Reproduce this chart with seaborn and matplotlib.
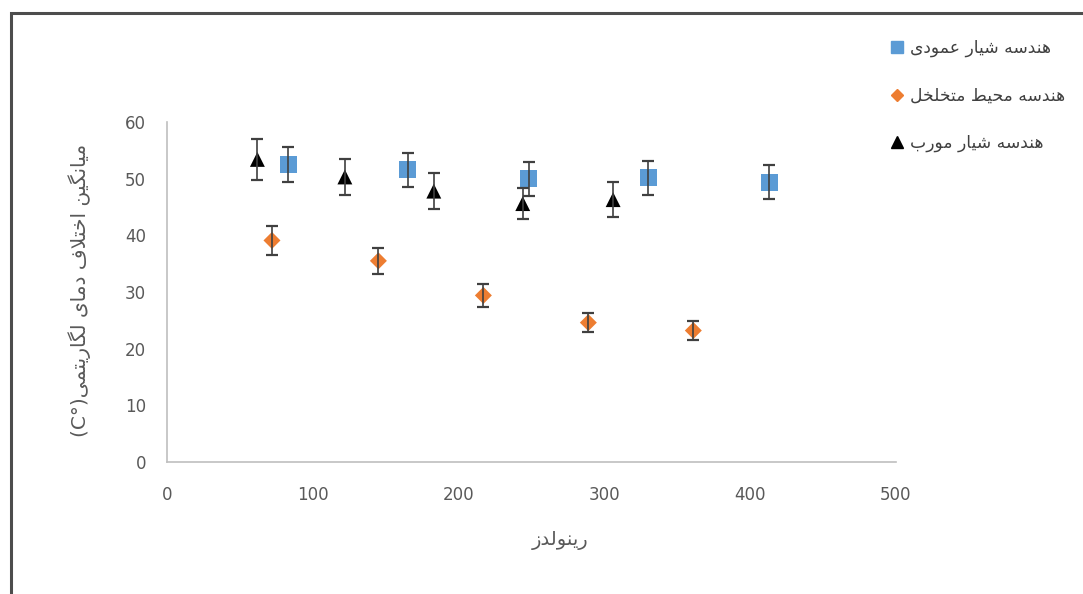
import matplotlib
matplotlib.use("Agg")
import matplotlib.pyplot as plt
from matplotlib.lines import Line2D
from matplotlib.patches import Rectangle
import seaborn as sns
import pandas as pd

# ---- data -------------------------------------------------------------
re_vertical = [83, 165, 248, 330, 413]
dt_vertical = [52.5, 51.6, 50.0, 50.2, 49.4]
err_vertical = [3.1, 3.0, 3.0, 3.0, 3.0]

re_porous = [72, 145, 217, 289, 361]
dt_porous = [39.1, 35.5, 29.4, 24.6, 23.2]
err_porous = [2.6, 2.3, 2.0, 1.7, 1.7]

re_oblique = [62, 122, 183, 244, 306]
dt_oblique = [53.4, 50.3, 47.8, 45.6, 46.3]
err_oblique = [3.6, 3.2, 3.2, 2.7, 3.1]

series_names = ["هندسه شیار عمودی", "هندسه محیط متخلخل", "هندسه شیار مورب"]
x_label = "رینولدز"
y_label = "میانگین اختلاف دمای لگاریتمی"
y_unit = "(C°)"
x_ticks = [0, 100, 200, 300, 400, 500]
y_ticks = [0, 10, 20, 30, 40, 50, 60]

# ---- minimal Arabic-script shaping (contextual forms + RTL order) -----
_FORMS = {
    "\u0627": ("\uFE8D", "\uFE8E", None, None),
    "\u0628": ("\uFE8F", "\uFE90", "\uFE91", "\uFE92"),
    "\u062A": ("\uFE95", "\uFE96", "\uFE97", "\uFE98"),
    "\u062D": ("\uFEA1", "\uFEA2", "\uFEA3", "\uFEA4"),
    "\u062E": ("\uFEA5", "\uFEA6", "\uFEA7", "\uFEA8"),
    "\u062F": ("\uFEA9", "\uFEAA", None, None),
    "\u0631": ("\uFEAD", "\uFEAE", None, None),
    "\u0632": ("\uFEAF", "\uFEB0", None, None),
    "\u0633": ("\uFEB1", "\uFEB2", "\uFEB3", "\uFEB4"),
    "\u0634": ("\uFEB5", "\uFEB6", "\uFEB7", "\uFEB8"),
    "\u0637": ("\uFEC1", "\uFEC2", "\uFEC3", "\uFEC4"),
    "\u0639": ("\uFEC9", "\uFECA", "\uFECB", "\uFECC"),
    "\u0641": ("\uFED1", "\uFED2", "\uFED3", "\uFED4"),
    "\u0644": ("\uFEDD", "\uFEDE", "\uFEDF", "\uFEE0"),
    "\u0645": ("\uFEE1", "\uFEE2", "\uFEE3", "\uFEE4"),
    "\u0646": ("\uFEE5", "\uFEE6", "\uFEE7", "\uFEE8"),
    "\u0647": ("\uFEE9", "\uFEEA", "\uFEEB", "\uFEEC"),
    "\u0648": ("\uFEED", "\uFEEE", None, None),
    "\u06CC": ("\uFBFC", "\uFBFD", "\uFBFE", "\uFBFF"),
    "\u06AF": ("\uFB92", "\uFB93", "\uFB94", "\uFB95"),
    "LA": ("\uFEFB", "\uFEFC", None, None),
}


def shape(text):
    units, i = [], 0
    while i < len(text):
        if text[i] == "\u0644" and i + 1 < len(text) and text[i + 1] == "\u0627":
            units.append("LA")
            i += 2
        else:
            units.append(text[i])
            i += 1
    out = []
    for k, c in enumerate(units):
        if c not in _FORMS:
            out.append(c)
            continue
        prev = units[k - 1] if k > 0 else None
        nxt = units[k + 1] if k + 1 < len(units) else None
        iso, fin, ini, med = _FORMS[c]
        jp = prev in _FORMS and _FORMS[prev][2] is not None
        jn = ini is not None and nxt in _FORMS
        out.append(med if (jp and jn) else fin if jp else ini if jn else iso)
    return "".join(reversed(out))


# ---- style ------------------------------------------------------------
sns.set_theme(style="white")
plt.rcParams["font.family"] = ["DejaVu Sans"]

colors = ["#5B9BD5", "#ED7D31", "#000000"]
markers = ["s", "D", "^"]
sizes = [150, 75, 115]
err_color = "#404040"
text_gray = "#595959"

frames = []
for name, xs, ys, es in zip(
    series_names,
    [re_vertical, re_porous, re_oblique],
    [dt_vertical, dt_porous, dt_oblique],
    [err_vertical, err_porous, err_oblique],
):
    frames.append(pd.DataFrame({"Re": xs, "dT": ys, "err": es, "series": name}))
df = pd.concat(frames, ignore_index=True)

fig = plt.figure(figsize=(10.83, 5.94), dpi=100)
ax = fig.add_axes([0.1542, 0.2222, 0.6731, 0.5724])

for name, color, mk, sz in zip(series_names, colors, markers, sizes):
    sub = df[df["series"] == name]
    sns.scatterplot(data=sub, x="Re", y="dT", color=color, marker=mk, s=sz,
                    edgecolor="none", linewidth=0, ax=ax, legend=False, zorder=2)
    ax.errorbar(sub["Re"], sub["dT"], yerr=sub["err"], fmt="none",
                ecolor=err_color, elinewidth=1.2, capsize=4.5, capthick=1.6, zorder=3)

ax.set_xlim(0, 500)
ax.set_ylim(0, 60)
ax.set_xticks(x_ticks)
ax.set_yticks(y_ticks)
ax.tick_params(axis="both", length=0, labelsize=12, labelcolor=text_gray)
ax.tick_params(axis="y", pad=15)
ax.tick_params(axis="x", pad=17)
for side in ["top", "right"]:
    ax.spines[side].set_visible(False)
for side in ["left", "bottom"]:
    ax.spines[side].set_color("#bfbfbf")
    ax.spines[side].set_linewidth(1.2)
ax.set_xlabel("")
ax.set_ylabel("")

# axis titles
fig.text(560 / 1083, 1 - 541 / 594, shape(x_label), ha="center", va="center",
         fontsize=14, color=text_gray)
fig.text(80 / 1083, 1 - 290 / 594, y_unit + shape(y_label), ha="center", va="center",
         rotation=90, fontsize=14.5, color=text_gray)

# legend
handles = [
    Line2D([], [], linestyle="none", marker="s", markersize=9, color=colors[0]),
    Line2D([], [], linestyle="none", marker="D", markersize=6, color=colors[1]),
    Line2D([], [], linestyle="none", marker="^", markersize=9, color=colors[2]),
]
fig.legend(handles, [shape(n) for n in series_names], loc="upper left",
           bbox_to_anchor=(890 / 1083, 1 - 39 / 594), frameon=False,
           fontsize=12.3, labelcolor="#404040", labelspacing=1.72,
           handlelength=0.8, handletextpad=0.4, borderaxespad=0, borderpad=0)

# outer chart frame
fig.add_artist(Rectangle((11 / 1083, -0.05), 1.2, 1.05 - 13 / 594,
                         transform=fig.transFigure, fill=False,
                         edgecolor="#4d4d4d", linewidth=2.2))

fig.savefig("out.png", dpi=100)
